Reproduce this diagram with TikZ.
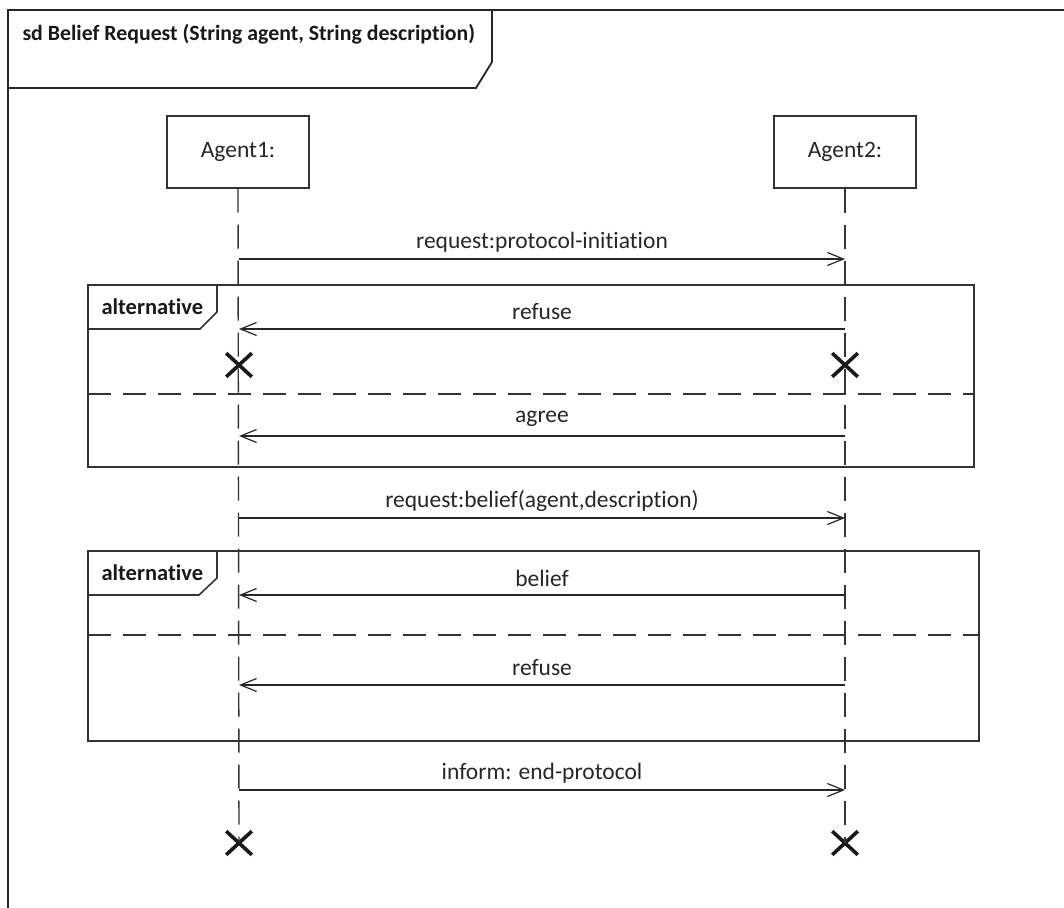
\documentclass[tikz,border=0pt]{standalone}
\usepackage{fontspec}
\setmainfont{Carlito}[Ligatures=NoCommon]
\usetikzlibrary{arrows.meta,shapes.misc}
\begin{document}
\begin{tikzpicture}[x=1pt,y=-1pt,
  txt/.style={font=\fontsize{23.5}{27}\selectfont, text=black!85},
  boldtxt/.style={font=\fontsize{22.5}{27}\selectfont\bfseries, text=black!90},
  titletxt/.style={font=\fontsize{21.8}{26}\selectfont\bfseries, text=black!90},
  frameline/.style={draw=black!85, line width=1.8pt},
  agentbox/.style={draw=black!80, line width=1.4pt, fill=white, minimum width=142pt, minimum height=72pt, inner sep=0pt, txt},
  lifeline/.style={draw=black!80, line width=1.4pt, dash pattern=on 24pt off 12pt},
  msg/.style={draw=black!85, line width=1.4pt, -{Straight Barb[length=16pt,width=13pt,line width=1.2pt]}},
  msglabel/.style={txt, midway, yshift=17pt},
  altbox/.style={draw=black!80, line width=1.6pt},
  divider/.style={draw=black!80, line width=1.4pt, dash pattern=on 23pt off 12pt},
  destroy/.style={cross out, draw=black!90, line width=3.6pt, minimum width=22pt, minimum height=20pt, inner sep=0pt},
]
\useasboundingbox (0,0) rectangle (1064,907);
\clip (0,0) rectangle (1064,907);

% diagram frame and its name tab
\draw[frameline] (8,1000) -- (8,10) -- (1100,10);
\draw[frameline] (8,88) -- (476,88) -- (492,62) -- (492,10);
\node[titletxt, anchor=west] (title) at (19,34) {sd Belief Request (String agent, String description)};

% participants
\node[agentbox] (A1) at (238,152) {Agent1:};
\node[agentbox] (A2) at (845,152) {Agent2:};

% destruction marks
\node[destroy] (d1a) at (239,365) {};
\node[destroy] (d2a) at (845,365) {};
\node[destroy] (d1b) at (239,843) {};
\node[destroy] (d2b) at (845,843) {};

% lifelines
\draw[lifeline] (A1.south) -- (d1b.center);
\draw[lifeline] (A2.south) -- (d2b.center);

% message anchor points on the lifelines
\coordinate (p1) at (239,259);  \coordinate (q1) at (845,259);
\coordinate (p2) at (239,329);  \coordinate (q2) at (845,329);
\coordinate (p3) at (239,436);  \coordinate (q3) at (845,436);
\coordinate (p4) at (239,518);  \coordinate (q4) at (845,518);
\coordinate (p5) at (239,595);  \coordinate (q5) at (845,595);
\coordinate (p6) at (239,685);  \coordinate (q6) at (845,685);
\coordinate (p7) at (239,790);  \coordinate (q7) at (845,790);

% first alternative fragment
\draw[altbox] (88,285) rectangle (974,467);
\draw[altbox] (88,329) -- (200,329) -- (217,312) -- (217,285);
\node[boldtxt, anchor=west] (alt1) at (98,307) {alternative};
\draw[divider] (88,394) -- (974,394);

% second alternative fragment
\draw[altbox] (88,551) rectangle (979,741);
\draw[altbox] (88,595) -- (199,595) -- (217,578) -- (217,551);
\node[boldtxt, anchor=west] (alt2) at (98,573) {alternative};
\draw[divider] (88,635) -- (979,635);

% messages
\draw[msg] (p1) -- (q1) node[msglabel] {request:protocol-initiation};
\draw[msg] (q2) -- (p2) node[msglabel] {refuse};
\draw[msg] (q3) -- (p3) node[msglabel] {agree};
\draw[msg] (p4) -- (q4) node[msglabel] {request:belief(agent,description)};
\draw[msg] (q5) -- (p5) node[msglabel] {belief};
\draw[msg] (q6) -- (p6) node[msglabel] {refuse};
\draw[msg] (p7) -- (q7) node[msglabel] {inform: end-protocol};
\end{tikzpicture}
\end{document}
